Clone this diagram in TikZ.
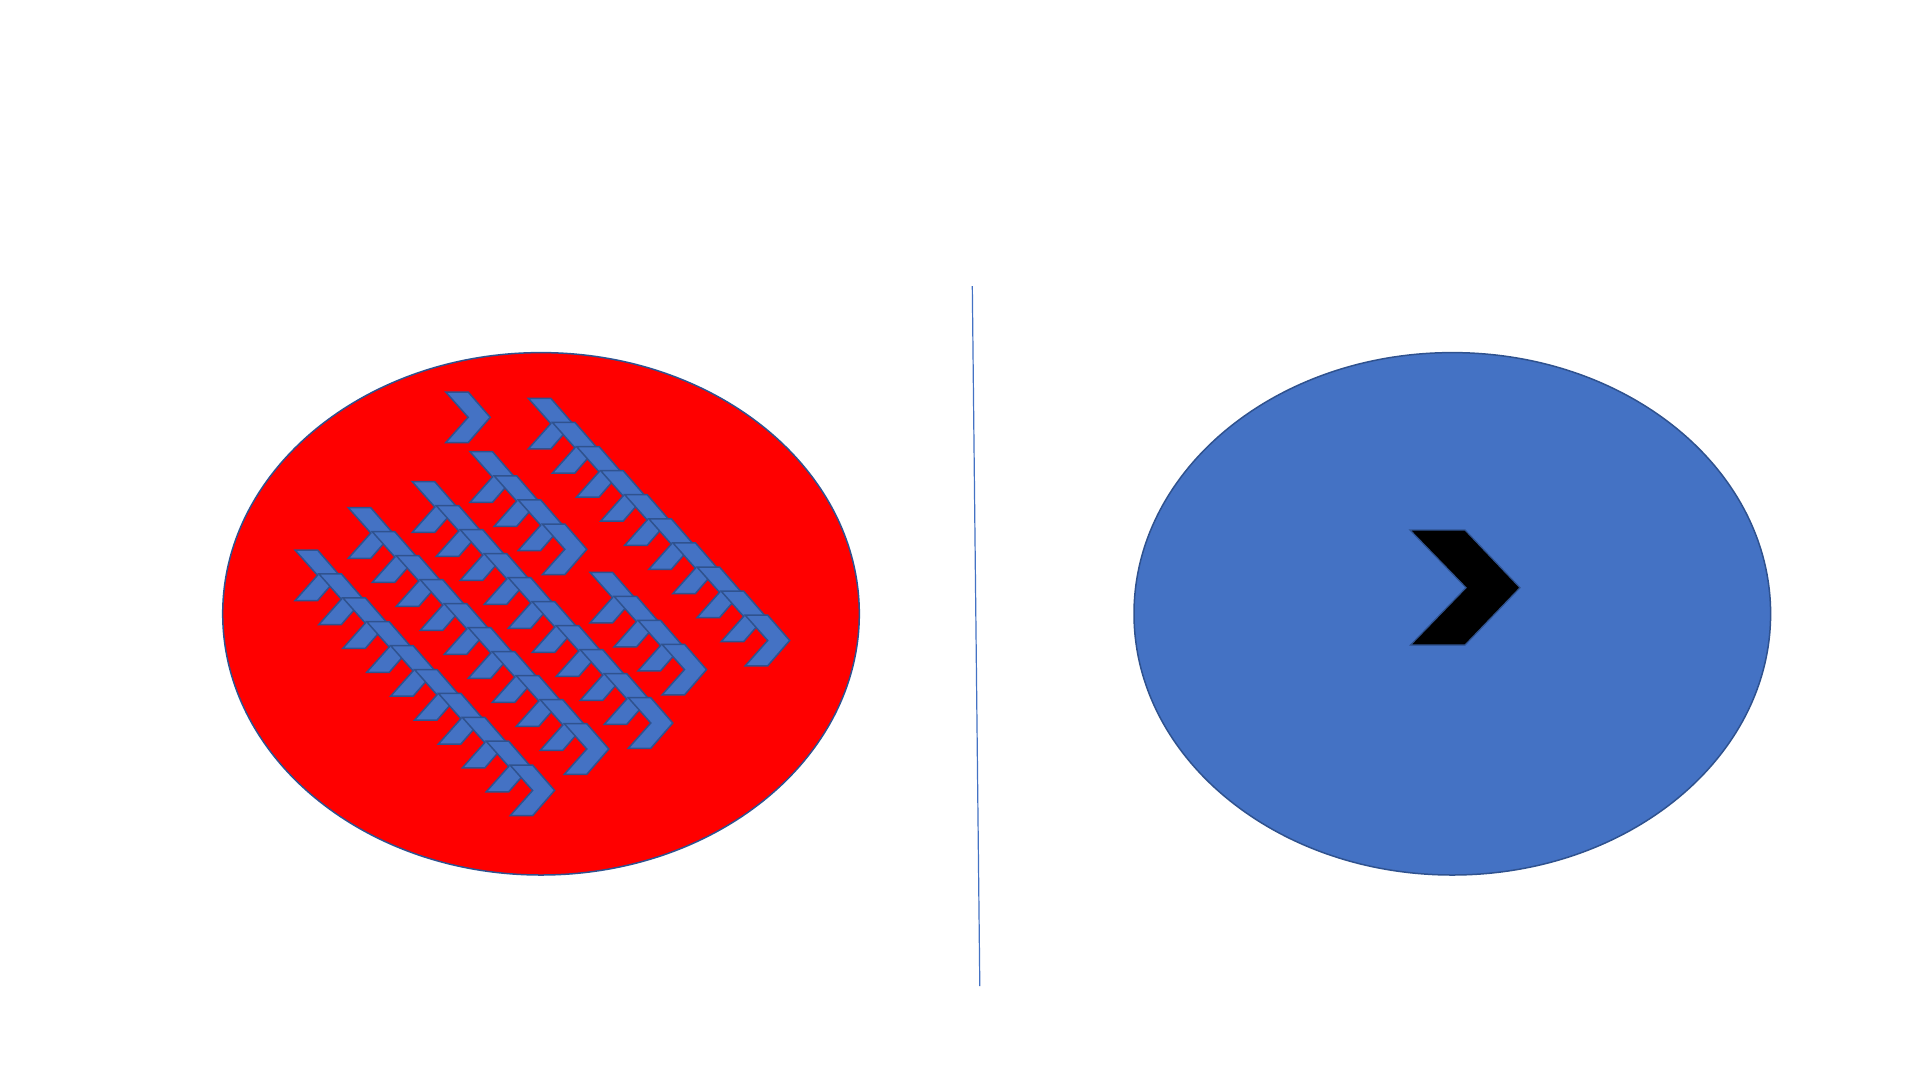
\documentclass[tikz,border=0pt]{standalone}
\usepackage{tikz}

\definecolor{offblue}{HTML}{4472C4}
\definecolor{offedge}{HTML}{2F528F}

\begin{document}
\begin{tikzpicture}[x=1pt, y=-1pt, line width=1.5pt, line join=miter,
  chev/.pic={
    \draw[fill=offblue, draw=offedge] (0,0) -- ++(22.5,0) -- ++(22,25.3) -- ++(-22,25.3) -- ++(-22.5,0) -- ++(22.5,-25.3) -- cycle;
  }]

  %% ════ 白底（钉死画布）════
  \fill[white] (0,0) rectangle (1920,1080);

  %% ════ 两个椭圆 ════
  \draw[fill=red, draw=offedge] (541.0,613.8) ellipse (318.3 and 261.2);
  \draw[fill=offblue, draw=offedge] (1452.3,613.8) ellipse (318.3 and 261.2);

  %% ════ 分隔线 ════
  \draw[draw=offblue, line width=1.2pt] (972.3,286.0) -- (979.8,986.0);

  %% ════ 红椭圆里的箭头链 ════
  % 单个
  \pic at (445.7,392.0) {chev};
  % 链 B（10 个）
  \pic at (528.3,398.3) {chev};
  \pic at (552.4,422.4) {chev};
  \pic at (576.5,446.5) {chev};
  \pic at (600.6,470.6) {chev};
  \pic at (624.7,494.7) {chev};
  \pic at (648.8,518.8) {chev};
  \pic at (672.9,542.9) {chev};
  \pic at (697.0,567.0) {chev};
  \pic at (721.1,591.1) {chev};
  \pic at (745.2,615.2) {chev};
  % 链 C（4 个）
  \pic at (470.0,451.7) {chev};
  \pic at (494.1,475.8) {chev};
  \pic at (518.2,499.9) {chev};
  \pic at (542.3,524.0) {chev};
  % 链 D（10 个）
  \pic at (412.3,481.7) {chev};
  \pic at (436.3,505.7) {chev};
  \pic at (460.3,529.7) {chev};
  \pic at (484.3,553.7) {chev};
  \pic at (508.3,577.7) {chev};
  \pic at (532.3,601.7) {chev};
  \pic at (556.3,625.7) {chev};
  \pic at (580.3,649.7) {chev};
  \pic at (604.3,673.7) {chev};
  \pic at (628.3,697.7) {chev};
  % 链 E（10 个）
  \pic at (348.3,507.7) {chev};
  \pic at (372.3,531.7) {chev};
  \pic at (396.3,555.7) {chev};
  \pic at (420.3,579.7) {chev};
  \pic at (444.3,603.7) {chev};
  \pic at (468.3,627.7) {chev};
  \pic at (492.3,651.7) {chev};
  \pic at (516.3,675.7) {chev};
  \pic at (540.3,699.7) {chev};
  \pic at (564.3,723.7) {chev};
  % 链 F（10 个）
  \pic at (295.0,550.0) {chev};
  \pic at (318.9,573.9) {chev};
  \pic at (342.8,597.8) {chev};
  \pic at (366.7,621.7) {chev};
  \pic at (390.6,645.6) {chev};
  \pic at (414.5,669.5) {chev};
  \pic at (438.4,693.4) {chev};
  \pic at (462.3,717.3) {chev};
  \pic at (486.2,741.2) {chev};
  \pic at (510.1,765.1) {chev};
  % 链 G（4 个）
  \pic at (590.0,572.3) {chev};
  \pic at (614.0,596.3) {chev};
  \pic at (638.0,620.3) {chev};
  \pic at (662.0,644.3) {chev};

  %% ════ 蓝椭圆里的黑箭头 ════
  \draw[fill=black, draw=offedge, line width=1.2pt] (1410.0,530.0) -- (1465.0,530.0) -- (1520.0,587.7) -- (1465.0,645.0) -- (1410.5,645.0) -- (1466.0,587.7) -- cycle;

  \pgfresetboundingbox
  \path[use as bounding box] (0,0) rectangle (1920,1080);
\end{tikzpicture}
\end{document}
